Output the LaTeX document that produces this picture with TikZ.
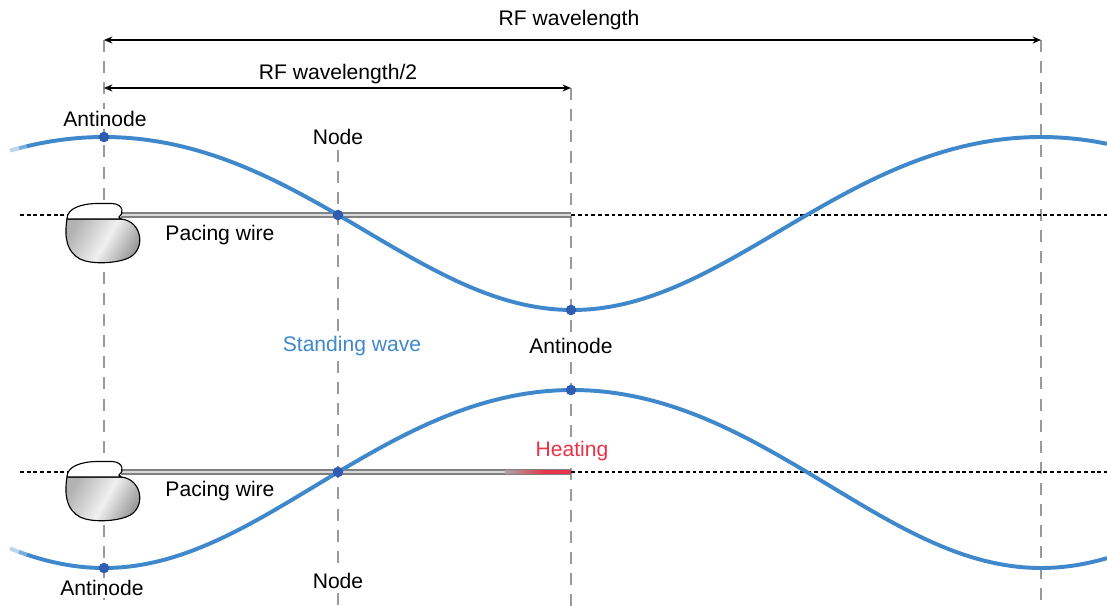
\documentclass[tikz,border=0pt]{standalone}
\usepackage{fontspec}
\setmainfont{Liberation Sans}
\usetikzlibrary{arrows.meta}
\definecolor{blu}{HTML}{3F88CC}
\definecolor{blupunto}{HTML}{2F5BB0}
\definecolor{rosso}{HTML}{E8344A}
\definecolor{grigio}{HTML}{9A9A9A}

\tikzset{
    etichetta/.style={font=\fontsize{15}{18}\selectfont, fill=white, inner sep=1.5pt},
    quota/.style={{Stealth[length=6pt,width=5pt]}-{Stealth[length=6pt,width=5pt]}, line width=1.3pt},
    guida/.style={grigio, line width=1.2pt, dash pattern=on 8.5pt off 6.5pt},
    asse/.style={black, line width=1.4pt, dash pattern=on 2.8pt off 2pt},
    onda/.style={blu, line width=2.8pt},
    punto/.style={circle, fill=blupunto, inner sep=0pt, minimum size=7.5pt},
}

\begin{document}
\begin{tikzpicture}[x=0.025cm, y=-0.025cm,
    declare function={fase(\t)=0.38420*(\t-104);}]
        \useasboundingbox (0,0) rectangle (1107,606);
        \def\xa{104}  % primo ventre
        \def\xb{338}  % nodo
        \def\xc{571}  % lambda/2
        \def\xd{1041} % lambda
        \def\ysu{215} % asse onda superiore
        \def\ygiu{472} % asse onda inferiore

        % Linee guida verticali
        \draw[guida] (\xa,40) -- (\xa,606);
        \draw[guida] (\xb,150) -- (\xb,606);
        \draw[guida] (\xc,88) -- (\xc,606);
        \draw[guida] (\xd,40) -- (\xd,606);

        % Quote
        \coordinate (l0) at (\xa,40);
        \coordinate (l1) at (\xd,40);
        \coordinate (m0) at (\xa,88);
        \coordinate (m1) at (\xc,88);
        \draw[quota] (l0) -- (l1);
        \draw[quota] (m0) -- (m1);
        \node[etichetta] (lambda) at (569,20) {RF wavelength};
        \node[etichetta] (mezzo) at (\xb,74) {RF wavelength/2};

        % Assi tratteggiati
        \draw[asse] (20,\ysu) -- (68,\ysu);
        \draw[asse] (\xc,\ysu) -- (1107,\ysu);
        \draw[asse] (20,\ygiu) -- (68,\ygiu);
        \draw[asse] (\xc,\ygiu) -- (1107,\ygiu);

        % Cavi
        \foreach \y in {\ysu,\ygiu} {
            \draw[black!50, line width=3.6pt] (121,\y) -- (\xc,\y);
            \draw[black!15, line width=1.4pt] (121,\y) -- (\xc,\y);
        }
        % tratto che si scalda
        \shade[left color=black!35, right color=rosso]
        (505,\ygiu-1.8) rectangle (545,\ygiu+1.8);
        \fill[rosso] (544.5,\ygiu-1.8) rectangle (\xc,\ygiu+1.8);

        % Pacemaker
        \foreach \dy in {0,258} {
            \begin{scope}[shift={(0,\dy)}]
                \draw[line width=0.8pt, left color=black!30, right color=black!45, middle color=black!6, shading angle=60]
                (67,219) -- (121,219) .. controls (143,221) and (147,252) .. (126,259)
                .. controls (112,264) and (90,264) .. (80,259)
                .. controls (67,252) and (64,238) .. (67,219) -- cycle;
                \draw[line width=0.8pt, fill=white]
                (67,219) .. controls (67,208) and (82,203.5) .. (98,203.5)
                -- (112,203.5) .. controls (124,204) and (124,214) .. (119,217)
                .. controls (121,219) and (121,219) .. (121,219) -- cycle;
            \end{scope}
        }

        % Onde stazionarie
        \draw[onda, blu!35] plot[domain=10:20, samples=10]
        (\x, {\ysu - 86.5*cos(fase(\x)) + 8.5*cos(fase(\x))*cos(fase(\x))});
        \draw[onda, blu!70] plot[domain=19:28, samples=10]
        (\x, {\ysu - 86.5*cos(fase(\x)) + 8.5*cos(fase(\x))*cos(fase(\x))});
        \draw[onda] plot[domain=27:1107, samples=220]
        (\x, {\ysu - 86.5*cos(fase(\x)) + 8.5*cos(fase(\x))*cos(fase(\x))});
        \draw[onda, blu!35] plot[domain=10:20, samples=10]
        (\x, {\ygiu + 89*cos(fase(\x)) + 7*cos(fase(\x))*cos(fase(\x))});
        \draw[onda, blu!70] plot[domain=19:28, samples=10]
        (\x, {\ygiu + 89*cos(fase(\x)) + 7*cos(fase(\x))*cos(fase(\x))});
        \draw[onda] plot[domain=27:1107, samples=220]
        (\x, {\ygiu + 89*cos(fase(\x)) + 7*cos(fase(\x))*cos(fase(\x))});

        % Ventri e nodi
        \node[punto] (v1) at (\xa,137) {};
        \node[punto] (n1) at (\xb,\ysu) {};
        \node[punto] (v2) at (\xc,310) {};
        \node[punto] (v3) at (\xc,390) {};
        \node[punto] (n2) at (\xb,\ygiu) {};
        \node[punto] (v4) at (\xa,568) {};

        % Etichette
        \node[etichetta] (tv1) at (105,119) {Antinode};
        \node[etichetta] (tn1) at (\xb,137) {Node};
        \node[etichetta] (tw1) at (220,235) {Pacing wire};
        \node[etichetta, text=blu] (tonda) at (352,346) {Standing wave};
        \node[etichetta] (tv2) at (\xc,346) {Antinode};
        \node[etichetta, text=rosso] (tcaldo) at (572,451) {Heating};
        \node[etichetta] (tw2) at (220,491) {Pacing wire};
        \node[etichetta] (tv4) at (102,588) {Antinode};
        \node[etichetta] (tn2) at (\xb,581) {Node};
    \end{tikzpicture}
\end{document}
